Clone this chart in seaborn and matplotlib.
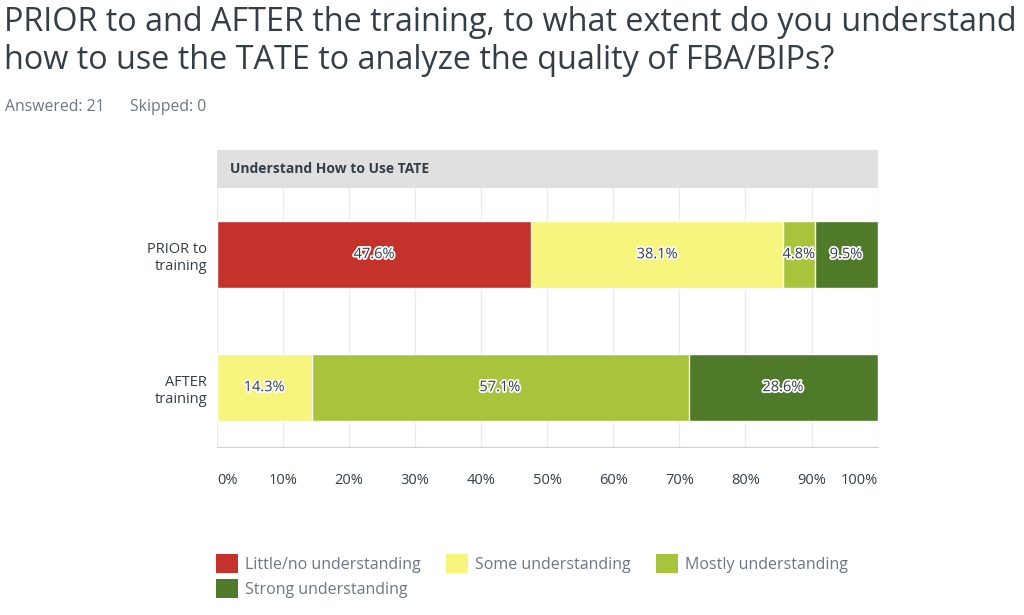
import numpy as np
import pandas as pd
import matplotlib
matplotlib.use("Agg")
import matplotlib.pyplot as plt
import matplotlib.patheffects as pe
from matplotlib.patches import Rectangle, Patch
import seaborn as sns

# ----------------------------------------------------------------
# Data
# ----------------------------------------------------------------
groups = ["PRIOR to\ntraining", "AFTER\ntraining"]
levels = ["Little/no understanding", "Some understanding",
          "Mostly understanding", "Strong understanding"]
prior_pct = [47.6, 38.1, 4.8, 9.5]
after_pct = [0.0, 14.3, 57.1, 28.6]
x_ticks = [0, 10, 20, 30, 40, 50, 60, 70, 80, 90, 100]

colors = ["#C5322C", "#F7F57E", "#A8C43C", "#4E7A29"]

df = pd.DataFrame({"group": groups})
for lvl, p, a in zip(levels, prior_pct, after_pct):
    df[lvl] = [p, a]
cum = df[levels].cumsum(axis=1)

# ----------------------------------------------------------------
# Figure
# ----------------------------------------------------------------
sns.set_style("white")
plt.rcParams["font.family"] = ["Open Sans", "DejaVu Sans"]

fig = plt.figure(figsize=(10.24, 6.15), dpi=100)
ax = fig.add_axes([0.212, 0.273, 0.645, 0.421])

# stacked bars: draw cumulative totals from the widest down
for i in reversed(range(len(levels))):
    sns.barplot(x=cum[levels[i]], y=df["group"], orient="h", color=colors[i],
                width=0.5, ax=ax, saturation=1, zorder=3)

# value labels
for row in range(len(groups)):
    left = 0.0
    for i, lvl in enumerate(levels):
        v = df.loc[row, lvl]
        if v > 0:
            ax.text(left + v / 2, row, f"{v:.1f}%", ha="center", va="center",
                    fontsize=10.5, color="#333e48", zorder=5,
                    path_effects=[pe.withStroke(linewidth=2.5, foreground="white")])
        left += v

ax.set_xlim(0, 100)
ax.set_ylim(1.447, -0.5)
ax.set_xticks(x_ticks)
ax.set_xticklabels([f"{t}%" for t in x_ticks], fontsize=10.5, color="#333e48")
xlabs = ax.get_xticklabels()
xlabs[0].set_horizontalalignment("left")
xlabs[-1].set_horizontalalignment("right")
ax.tick_params(axis="x", length=0, pad=19)
ax.tick_params(axis="y", length=0, pad=7, labelsize=10.5, labelcolor="#333e48")
for lab in ax.get_yticklabels():
    lab.set_horizontalalignment("right")
    lab.set_multialignment("right")
ax.set_xlabel("")
ax.set_ylabel("")
ax.grid(axis="x", color="#ebebeb", linewidth=1, zorder=0)
for s in ["top", "right", "left"]:
    ax.spines[s].set_visible(False)
ax.spines["bottom"].set_color("#d0d0d0")

# grey header band above the plot
ax.add_patch(Rectangle((0, 1.0), 1, 0.147, transform=ax.transAxes,
                       facecolor="#e0e0e0", edgecolor="none", clip_on=False))
ax.text(0.019, 1.0735, "Understand How to Use TATE", transform=ax.transAxes,
        ha="left", va="center", fontsize=10, fontweight="bold", color="#333e48")

# title and response counts
fig.text(0.004, 0.99, "PRIOR to and AFTER the training, to what extent do you understand\n"
         "how to use the TATE to analyze the quality of FBA/BIPs?",
         ha="left", va="top", fontsize=23.3, color="#333e48", linespacing=1.17)
fig.text(0.005, 0.826, "Answered: 21", ha="left", va="center",
         fontsize=11.3, color="#6b7787")
fig.text(0.127, 0.826, "Skipped: 0", ha="left", va="center",
         fontsize=11.3, color="#6b7787")

# legend
order = [0, 3, 1, 2]
handles = [Patch(facecolor=colors[i], edgecolor="none", label=levels[i]) for i in order]
leg = fig.legend(handles=handles, loc="upper left", bbox_to_anchor=(0.197, 0.122),
                 ncol=3, frameon=False, fontsize=11.5, handlelength=1.4,
                 handleheight=1.4, columnspacing=1.6, handletextpad=0.4,
                 labelspacing=0.4)
for t in leg.get_texts():
    t.set_color("#6b7787")

fig.savefig("out.png", dpi=100)
